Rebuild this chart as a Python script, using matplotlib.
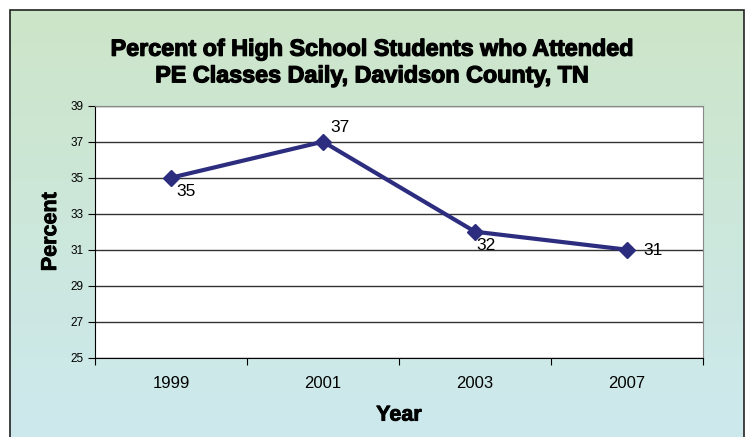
import matplotlib.pyplot as plt
import matplotlib.patheffects as pe
import numpy as np
from matplotlib.patches import Rectangle

# Daily PE attendance, Davidson County high school students
years = ["1999", "2001", "2003", "2007"]
percent = [35, 37, 32, 31]
label_offsets = [(4, -15), (5, 5), (1, -15), (12, -6)]

plt.rcParams['font.family'] = ['Liberation Sans', 'DejaVu Sans']

fig = plt.figure(figsize=(7.45, 4.37), dpi=100)
fig.patch.set_facecolor("white")

# gradient backdrop inside the chart frame
bg = fig.add_axes([10 / 745, 0, 734 / 745, 427 / 437], zorder=0)
top = np.array([204, 229, 200]) / 255
bottom = np.array([205, 233, 238]) / 255
t = np.linspace(0, 1, 256)[:, None]
grad = top * (1 - t[..., None]) + bottom * t[..., None]
bg.imshow(grad, aspect="auto", extent=[0, 1, 0, 1])
bg.set_axis_off()
fig.patches.append(Rectangle((10 / 745, -0.05), 734 / 745, 0.05 + 427 / 437,
                             transform=fig.transFigure, fill=False,
                             edgecolor="#222222", linewidth=1.2, zorder=5))

ax = fig.add_axes([95 / 745, 79.3 / 437, 608 / 745, 252 / 437], zorder=1)
ax.set_facecolor("white")
x = np.arange(len(years))
ax.plot(x, percent, color="#2d2d80", linewidth=3, marker="D", markersize=8,
        zorder=3, clip_on=False)
for xi, v, off in zip(x, percent, label_offsets):
    ax.annotate(str(v), (xi, v), xytext=off, textcoords="offset points",
                fontsize=12.5, ha="left", va="bottom")

ax.set_xlim(-0.5, 3.5)
ax.set_ylim(25, 39)
ax.set_yticks(range(25, 40, 2))
ax.yaxis.grid(True, color="#333333", linewidth=1)
ax.set_axisbelow(True)
ax.tick_params(axis="y", direction="out", length=5, labelsize=8.5, pad=3)

ax.set_xticks(np.arange(-0.5, 4, 1))
ax.set_xticklabels([])
ax.set_xticks(x, minor=True)
ax.set_xticklabels(years, minor=True, fontsize=12)
ax.tick_params(axis="x", which="major", direction="out", length=5)
ax.tick_params(axis="x", which="minor", length=0, pad=13)

for side in ["top", "right"]:
    ax.spines[side].set_color("#888888")
for side in ["left", "bottom"]:
    ax.spines[side].set_color("black")

heavy = [pe.withStroke(linewidth=0.6, foreground="black")]
ax.set_xlabel("Year", fontsize=15.5, fontweight="bold", labelpad=10,
              path_effects=heavy)
ax.set_ylabel("Percent", fontsize=15.5, fontweight="bold", labelpad=7,
              path_effects=heavy)

thick = [pe.withStroke(linewidth=0.9, foreground="black")]
fig.text(0.5, 0.857, "Percent of High School Students who Attended\nPE Classes Daily, Davidson County, TN",
         ha="center", va="center", fontsize=16.8, fontweight="bold", linespacing=1.2,
         path_effects=thick)

fig.savefig("out.png", dpi=100)
